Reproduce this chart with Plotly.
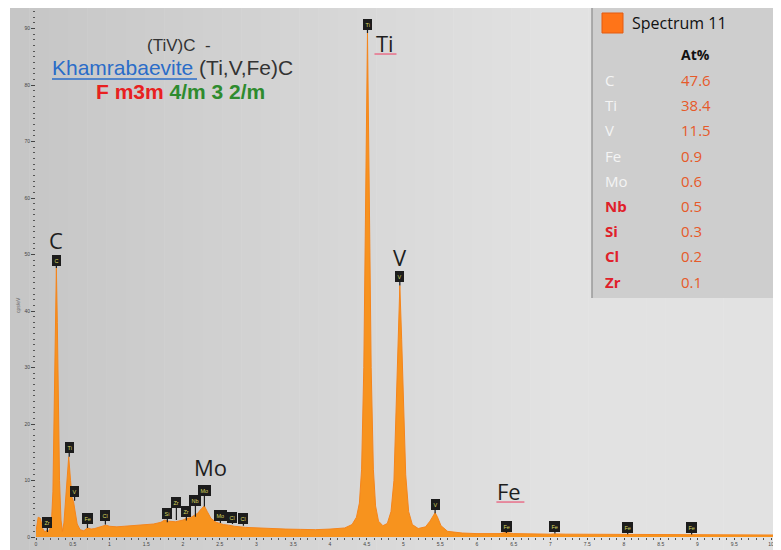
import plotly.graph_objects as go

# ---------------- data ----------------
energy_kev = [0.00, 0.03, 0.06, 0.09, 0.12, 0.15, 0.18, 0.21, 0.23, 0.25, 0.265, 0.277,
              0.29, 0.305, 0.32, 0.34, 0.36, 0.38, 0.40, 0.42, 0.445, 0.47, 0.49, 0.51,
              0.53, 0.56, 0.60, 0.65, 0.70, 0.75, 0.80, 0.90, 0.95, 1.00, 1.10, 1.20,
              1.30, 1.40, 1.50, 1.60, 1.70, 1.75, 1.80, 1.90, 2.00, 2.05, 2.10, 2.15,
              2.20, 2.25, 2.29, 2.33, 2.38, 2.45, 2.55, 2.62, 2.70, 2.85, 3.00, 3.20,
              3.40, 3.60, 3.80, 4.00, 4.20, 4.30, 4.36, 4.40, 4.43, 4.46, 4.485, 4.51,
              4.535, 4.56, 4.59, 4.62, 4.66, 4.72, 4.78, 4.83, 4.87, 4.90, 4.925, 4.95,
              4.975, 5.00, 5.03, 5.07, 5.12, 5.20, 5.30, 5.36, 5.40, 5.43, 5.46, 5.51,
              5.60, 5.80, 6.00, 6.30, 6.40, 6.50, 7.00, 7.06, 7.20, 8.00, 9.00, 10.14]
counts_cps_ev = [1.0, 3.5, 3.3, 1.5, 0.9, 1.2, 1.0, 2.5, 8.0, 25.0, 40.0, 47.6,
                 38.0, 22.0, 10.0, 3.0, 1.0, 2.5, 6.0, 10.0, 14.2, 10.0, 7.0, 6.3,
                 4.5, 2.3, 1.3, 1.1, 1.6, 1.4, 1.5, 1.9, 2.1, 1.9, 1.8, 1.9,
                 2.0, 2.0, 2.1, 2.3, 2.6, 3.0, 2.8, 2.7, 3.0, 3.3, 3.4, 3.8,
                 4.2, 5.0, 5.5, 4.5, 3.3, 2.6, 2.2, 2.1, 1.9, 1.7, 1.6, 1.5,
                 1.4, 1.35, 1.3, 1.4, 1.6, 2.2, 3.5, 6.0, 12.0, 30.0, 60.0, 89.2,
                 60.0, 30.0, 12.0, 5.5, 2.8, 2.0, 2.4, 4.5, 10.0, 22.0, 35.0, 44.5,
                 35.0, 22.0, 11.0, 4.5, 2.2, 1.5, 1.8, 2.8, 3.8, 4.3, 3.6, 2.0,
                 1.0, 0.7, 0.6, 0.6, 0.8, 0.6, 0.5, 0.55, 0.5, 0.45, 0.4, 0.35]

# element tags on the spectrum
tag_energy = [0.155, 0.277, 0.452, 0.525, 0.70, 0.944, 1.787, 1.91, 2.046, 2.169,
              2.291, 2.509, 2.673, 2.822, 4.51, 4.95, 5.43, 6.40, 7.06, 8.05, 8.92]
tag_label = ["Zr", "C", "Ti", "V", "Fe", "Cl", "Si", "Zr", "Zr", "Nb",
             "Mo", "Mo", "Cl", "Cl", "Ti", "V", "V", "Fe", "Fe", "Fe", "Fe"]
tag_value = [0.9, 47.6, 14.2, 6.4, 1.6, 2.2, 2.6, 3.0, 2.9, 3.6,
             5.4, 2.5, 2.3, 2.0, 89.2, 44.5, 4.2, 0.7, 0.6, 0.5, 0.45]
tag_lift_px = [8, 7, 8, 8, 8, 8, 8, 17, 8, 15, 15, 6, 6, 6, 8, 8, 8, 6, 6, 6, 6]

# big peak labels
peak_names = ["C", "Ti", "V", "Mo", "Fe"]
peak_energy = [0.277, 4.51, 4.95, 2.291, 6.40]
peak_value = [47.6, 89.2, 44.5, 5.4, 0.7]

# quantification table
table_elements = ["C", "Ti", "V", "Fe", "Mo", "Nb", "Si", "Cl", "Zr"]
table_at_pct = ["47.6", "38.4", "11.5", "0.9", "0.6", "0.5", "0.3", "0.2", "0.1"]
table_flagged = [False, False, False, False, False, True, True, True, True]

# ---------------- layout helpers ----------------
# The page body has an 8px margin, so the figure is drawn at window (8, 8).
OFF = 8
WIN_W, WIN_H = 781, 550
W, H = WIN_W - OFF, WIN_H - OFF
PLOT_L, PLOT_T, PLOT_B = 36, 8, 537        # window coordinates of the plot area
ML, MT = PLOT_L - OFF, PLOT_T - OFF
MB = H - (PLOT_B - OFF)
PW, PH = W - ML, H - MT - MB


def px(x):   # window x -> paper
    return (x - PLOT_L) / PW


def py(y):   # window y -> paper
    return (PLOT_B - y) / PH


fig = go.Figure()
fig.add_trace(go.Scatter(
    x=energy_kev, y=counts_cps_ev, mode="lines", fill="tozeroy",
    line=dict(color="#f5851c", width=1), fillcolor="#f7931e",
    hoverinfo="x+y", showlegend=False))

shapes = []
# gray gradient background (horizontal strips)
n = 40
x_start, x_end = 10, WIN_W
for i in range(n):
    g = int(198 + (226 - 198) * min(1.0, i / (n * 0.7)))
    x0 = x_start + (x_end - x_start) * i / n
    x1 = x_start + (x_end - x_start) * (i + 1) / n + 0.5
    shapes.append(dict(type="rect", xref="paper", yref="paper", x0=px(x0), x1=px(x1),
                       y0=py(WIN_H + 5), y1=py(8), fillcolor=f"rgb({g},{g},{g})",
                       line=dict(width=0), layer="below"))
# table panel
shapes.append(dict(type="rect", xref="paper", yref="paper", x0=px(592), x1=px(WIN_W + 2),
                   y0=py(298), y1=py(8), fillcolor="rgb(206,206,206)",
                   line=dict(width=0), layer="below"))
shapes.append(dict(type="line", xref="paper", yref="paper", x0=px(592), x1=px(592),
                   y0=py(298), y1=py(8), line=dict(color="#9a9a9a", width=1.5)))
# orange legend square
shapes.append(dict(type="rect", xref="paper", yref="paper", x0=px(602), x1=px(623),
                   y0=py(33), y1=py(13), fillcolor="#ff7418",
                   line=dict(color="#e35a10", width=1)))
# underline of mineral name
shapes.append(dict(type="line", xref="paper", yref="paper", x0=px(52), x1=px(197),
                   y0=py(79), y1=py(79), line=dict(color="#2a6cc8", width=1.5)))

annotations = []
# element tags
for e, lab, v, lift in zip(tag_energy, tag_label, tag_value, tag_lift_px):
    annotations.append(dict(x=e, y=v, xref="x", yref="y", text=lab, showarrow=True,
                            arrowhead=0, arrowwidth=1.2, arrowcolor="#1c1c1c",
                            ax=0, ay=-lift - 1, standoff=0, bgcolor="#1c1c1c",
                            bordercolor="#1c1c1c", borderpad=1.5,
                            font=dict(size=5.5, color="#d8d860", family="Liberation Sans")))

# big peak labels with pixel offsets
label_shift = {"C": (0, 28), "Ti": (18, -10), "V": (0, 29), "Mo": (6, 39), "Fe": (3, 42)}
for name, e, v in zip(peak_names, peak_energy, peak_value):
    dx, dy = label_shift[name]
    annotations.append(dict(x=e, y=v, xref="x", yref="y", text=name, showarrow=False,
                            xshift=dx, yshift=dy,
                            font=dict(size=22, color="#1e1e1e", family="Open Sans")))
# red squiggle underlines (Ti, Fe)
for name, e, v in zip(peak_names, peak_energy, peak_value):
    if name == "Ti":
        x0, x1, yy = 7, 29, -21
    elif name == "Fe":
        x0, x1, yy = -10, 18, 31
    else:
        continue
    shapes.append(dict(type="line", xref="x", yref="y", xsizemode="pixel",
                       ysizemode="pixel", xanchor=e, yanchor=v, x0=x0, x1=x1,
                       y0=yy, y1=yy, line=dict(color="#e8708a", width=1.5)))

# title block
annotations.append(dict(xref="paper", yref="paper", x=px(179), y=py(45), text="(TiV)C  -",
                        showarrow=False, xanchor="center", yanchor="middle",
                        font=dict(size=17, color="#333333", family="Liberation Sans")))
annotations.append(dict(xref="paper", yref="paper", x=px(50), y=py(68),
                        text="<span style='color:#2a6cc8'>Khamrabaevite</span> (Ti,V,Fe)C",
                        showarrow=False, xanchor="left", yanchor="middle",
                        font=dict(size=21, color="#333333", family="Liberation Sans")))
annotations.append(dict(xref="paper", yref="paper", x=px(180), y=py(92),
                        text="<b><span style='color:#e82020'>F m3m</span> "
                             "<span style='color:#2e8b2e'>4/m 3 2/m</span></b>",
                        showarrow=False, xanchor="center", yanchor="middle",
                        font=dict(size=21, family="Liberation Sans")))

# table
annotations.append(dict(xref="paper", yref="paper", x=px(630), y=py(23), text="Spectrum 11",
                        showarrow=False, xanchor="left", yanchor="middle",
                        font=dict(size=16, color="#111111", family="Open Sans")))
annotations.append(dict(xref="paper", yref="paper", x=px(679), y=py(55), text="<b>At%</b>",
                        showarrow=False, xanchor="left", yanchor="middle",
                        font=dict(size=14, color="#111111", family="Open Sans")))
for i, (el, val, flag) in enumerate(zip(table_elements, table_at_pct, table_flagged)):
    yrow = 80 + 25.2 * i
    annotations.append(dict(xref="paper", yref="paper", x=px(603), y=py(yrow),
                            text=f"<b>{el}</b>" if flag else el, showarrow=False,
                            xanchor="left", yanchor="middle",
                            font=dict(size=15, color="#e0202a" if flag else "#f4f4f4",
                                      family="Open Sans")))
    annotations.append(dict(xref="paper", yref="paper", x=px(679), y=py(yrow), text=val,
                            showarrow=False, xanchor="left", yanchor="middle",
                            font=dict(size=15, color="#e65a2a", family="Open Sans")))

# y axis title
annotations.append(dict(xref="paper", yref="paper", x=px(13), y=py(305), text="cps/eV",
                        textangle=-90, showarrow=False,
                        font=dict(size=5, color="#666666", family="Liberation Sans")))

fig.update_layout(
    width=W, height=H, margin=dict(l=ML, r=0, t=MT, b=MB, pad=0, autoexpand=False),
    paper_bgcolor="white", plot_bgcolor="rgba(0,0,0,0)",
    shapes=shapes, annotations=annotations, showlegend=False,
    xaxis=dict(range=[0, PW / 73.5], showgrid=False, zeroline=False, showline=False,
               automargin=False,
               ticks="outside", ticklen=2, tickcolor="#444", dtick=0.5, tick0=0,
               ticklabelstandoff=0,
               tickfont=dict(size=5, color="#444", family="Liberation Sans"),
               minor=dict(ticks="outside", ticklen=2, dtick=0.1, tickcolor="#555")),
    yaxis=dict(range=[0, PH / 5.65], showgrid=False, zeroline=False, showline=False,
               automargin=False,
               ticks="outside", ticklen=4, tickcolor="#444", dtick=10, tick0=0,
               tickfont=dict(size=5, color="#444", family="Liberation Sans"),
               minor=dict(ticks="outside", ticklen=2, dtick=1, tickcolor="#555")),
)

fig.write_html("out.html")
